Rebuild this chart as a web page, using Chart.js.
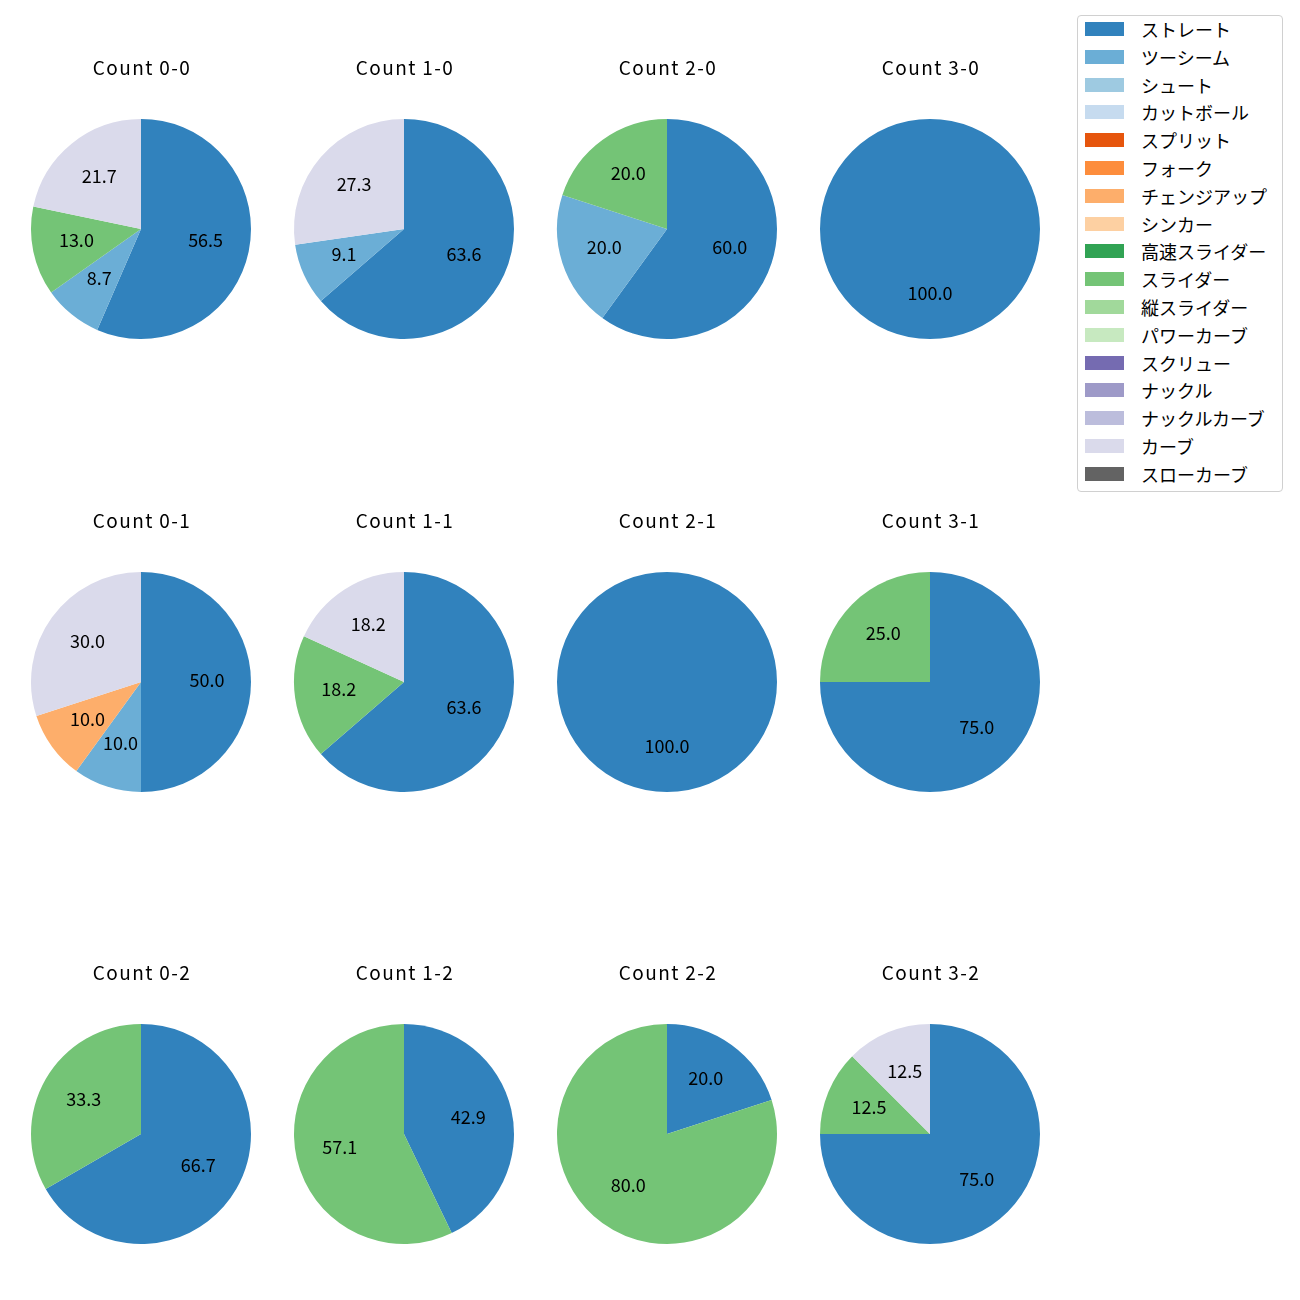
<!DOCTYPE html>
<html>
<head>
<meta charset="utf-8">
<script src="https://cdn.jsdelivr.net/npm/chart.js@4"></script>
<style>
  body { margin: 0; background: #fff; width: 1300px; height: 1300px; position: relative; overflow: hidden;
         font-family: "Noto Sans CJK JP", "Noto Sans", sans-serif; }
  .pie { position: absolute; width: 240px; height: 300px; }
  #legend { position: absolute; left: 1077px; top: 15px; width: 204px; height: 475px;
            border: 1px solid #d0d0d0; border-radius: 4px; background: #fff; }
  .item { position: absolute; left: 0; height: 20px; }
  .swatch { position: absolute; left: 7px; top: 3px; width: 39px; height: 14px; }
  .lbl { position: absolute; left: 63px; top: -3px; font-size: 18px; white-space: nowrap; color: #000; }
</style>
</head>
<body>
<div id="legend"></div>
<script>
// pitch types and tab20c colours, in legend order
var pitchTypes = ['ストレート', 'ツーシーム', 'シュート', 'カットボール', 'スプリット', 'フォーク',
    'チェンジアップ', 'シンカー', '高速スライダー', 'スライダー', '縦スライダー', 'パワーカーブ',
    'スクリュー', 'ナックル', 'ナックルカーブ', 'カーブ', 'スローカーブ'];
var pitchColors = ['#3182bd', '#6baed6', '#9ecae1', '#c6dbef', '#e6550d', '#fd8d3c',
    '#fdae6b', '#fdd0a2', '#31a354', '#74c476', '#a1d99b', '#c7e9c0',
    '#756bb1', '#9e9ac8', '#bcbddc', '#dadaeb', '#636363'];

// panels: balls-strikes
var countLabels = ['0-0', '1-0', '2-0', '3-0', '0-1', '1-1', '2-1', '3-1', '0-2', '1-2', '2-2', '3-2'];

// pitches thrown in each count (only types that appear)
var straight = [13, 7, 3, 1, 5, 7, 1, 3, 2, 3, 1, 6];
var twoSeam  = [2, 1, 1, 0, 1, 0, 0, 0, 0, 0, 0, 0];
var changeUp = [0, 0, 0, 0, 1, 0, 0, 0, 0, 0, 0, 0];
var slider   = [3, 0, 1, 0, 0, 2, 0, 1, 1, 4, 4, 1];
var curve    = [5, 3, 0, 0, 3, 2, 0, 0, 0, 0, 0, 1];

var colX = [141, 404, 667, 930];
var rowY = [229, 682, 1134];

// percentage labels at 0.6 radius, like autopct
var pctLabels = {
    id: 'pctLabels',
    afterDatasetsDraw: function (chart) {
        var ctx = chart.ctx;
        var meta = chart.getDatasetMeta(0);
        var data = chart.data.datasets[0].data;
        var total = data.reduce(function (a, b) { return a + b; }, 0);
        ctx.save();
        ctx.font = '18px "Noto Sans CJK JP", "Noto Sans", sans-serif';
        ctx.fillStyle = '#000';
        ctx.textAlign = 'center';
        ctx.textBaseline = 'middle';
        meta.data.forEach(function (arc, i) {
            if (!data[i]) return;
            var mid = (arc.startAngle + arc.endAngle) / 2;
            var r = arc.outerRadius * 0.6;
            ctx.fillText((data[i] / total * 100).toFixed(1), arc.x + Math.cos(mid) * r, arc.y + Math.sin(mid) * r - 2);
        });
        ctx.restore();
    }
};

var panelTitle = {
    id: 'panelTitle',
    afterDraw: function (chart, args, opts) {
        var ctx = chart.ctx;
        ctx.save();
        ctx.font = '19px "Noto Sans CJK JP", "Noto Sans", sans-serif';
        ctx.letterSpacing = '1.4px';
        ctx.fillStyle = '#000';
        ctx.textAlign = 'center';
        ctx.textBaseline = 'middle';
        ctx.fillText(opts.text, chart.width / 2 + 1, 19);
        ctx.restore();
    }
};

countLabels.forEach(function (label, k) {
    var values = pitchTypes.map(function () { return 0; });
    values[0] = straight[k];
    values[1] = twoSeam[k];
    values[6] = changeUp[k];
    values[9] = slider[k];
    values[15] = curve[k];

    var box = document.createElement('div');
    box.className = 'pie';
    box.style.left = (colX[k % 4] - 120) + 'px';
    box.style.top = (rowY[Math.floor(k / 4)] - 180) + 'px';
    var canvas = document.createElement('canvas');
    box.appendChild(canvas);
    document.body.appendChild(box);

    new Chart(canvas.getContext('2d'), {
        type: 'pie',
        data: {
            labels: pitchTypes,
            datasets: [{
                data: values,
                backgroundColor: pitchColors,
                borderWidth: 0
            }]
        },
        options: {
            responsive: true,
            maintainAspectRatio: false,
            animation: false,
            layout: { padding: { top: 70, bottom: 10, left: 10, right: 10 } },
            plugins: {
                legend: { display: false },
                tooltip: { enabled: false },
                panelTitle: { text: 'Count ' + label }
            }
        },
        plugins: [pctLabels, panelTitle]
    });
});

// legend
var legend = document.getElementById('legend');
pitchTypes.forEach(function (name, i) {
    var item = document.createElement('div');
    item.className = 'item';
    item.style.top = (3 + i * 27.8) + 'px';
    item.innerHTML = '<div class="swatch" style="background:' + pitchColors[i] + '"></div><div class="lbl">' + name + '</div>';
    legend.appendChild(item);
});
</script>
</body>
</html>
